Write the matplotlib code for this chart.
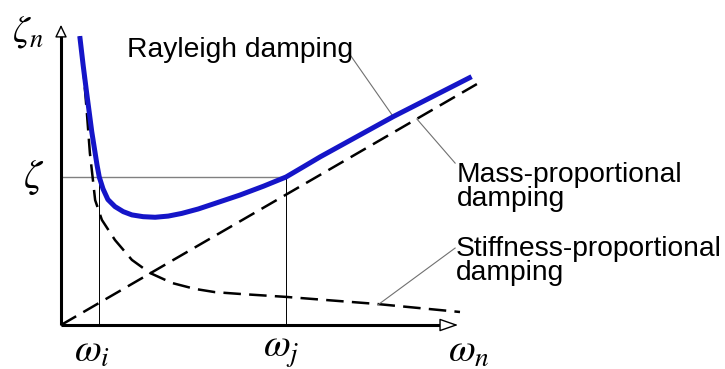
import matplotlib
matplotlib.use("Agg")
import matplotlib.pyplot as plt

plt.rcParams['font.family'] = ['Liberation Sans', 'DejaVu Sans']
plt.rcParams['mathtext.fontset'] = 'stix'

# natural frequencies and target damping ratio (%)
omega_i = 1.0
omega_j = 6.0
zeta_target = 5.0

# Rayleigh damping curve
w_rayleigh = [0.50, 0.59, 0.68, 0.75, 0.82, 0.89, 0.96, 1.02, 1.12, 1.25,
              1.44, 1.66, 1.89, 2.19, 2.51, 2.86, 3.22, 3.66, 4.11, 4.77,
              5.40, 6.00, 6.47, 6.91, 8.86, 10.95]
z_rayleigh = [9.76, 8.78, 7.88, 7.21, 6.53, 5.97, 5.41, 5.00, 4.60, 4.24,
              4.00, 3.83, 3.72, 3.66, 3.64, 3.68, 3.77, 3.92, 4.11, 4.39,
              4.69, 5.00, 5.35, 5.68, 7.04, 8.39]

# mass term (decays with frequency)
w_mass = [0.50, 0.56, 0.69, 0.77, 0.83, 0.91, 1.09, 1.44, 1.89, 2.37,
          2.96, 3.57, 4.11, 4.77, 6.00, 8.43, 10.64]
z_mass = [9.76, 9.19, 7.16, 5.81, 5.14, 4.22, 3.55, 2.87, 2.20, 1.76,
          1.42, 1.22, 1.11, 1.05, 0.95, 0.71, 0.44]

# stiffness term (linear in frequency)
w_stiff = [0.0, 11.09]
z_stiff = [0.0, 8.14]

fig = plt.figure(figsize=(7.25, 3.69), dpi=100)
ax = fig.add_axes([0, 0, 1, 1])
ax.set_xlim(-1.627, 17.707)
ax.set_ylim(-1.486, 10.98)
ax.axis('off')

# axes with open arrow heads
ax.plot([0, 10.27], [0, 0], color='black', lw=2.2, solid_capstyle='butt', zorder=3)
ax.plot([0, 0], [0, 9.80], color='black', lw=2.2, solid_capstyle='butt', zorder=3)
ax.annotate('', xy=(10.59, 0), xytext=(10.27, 0),
            arrowprops=dict(arrowstyle='-|>,head_length=1.15,head_width=0.4',
                            mutation_scale=10, fc='white', ec='black', lw=1.0,
                            shrinkA=0, shrinkB=0), zorder=4)
ax.annotate('', xy=(0, 10.14), xytext=(0, 9.80),
            arrowprops=dict(arrowstyle='-|>,head_length=0.75,head_width=0.36',
                            mutation_scale=10, fc='white', ec='black', lw=1.0,
                            shrinkA=0, shrinkB=0), zorder=4)

# reference lines
ax.plot([0, omega_j], [zeta_target, zeta_target], color='#808080', lw=1.0, zorder=1)
ax.plot([omega_i, omega_i], [0, zeta_target], color='black', lw=0.7, zorder=1)
ax.plot([omega_j, omega_j], [0, zeta_target], color='black', lw=0.7, zorder=1)

# curves
ax.plot(w_mass, z_mass, color='black', lw=1.8, dashes=(7, 3.3), zorder=2)
ax.plot(w_stiff, z_stiff, color='black', lw=1.8, dashes=(7, 3.3), zorder=2)
ax.plot(w_rayleigh, z_rayleigh, color='#1515c8', lw=3.6, solid_capstyle='butt',
        solid_joinstyle='round', zorder=3)

# labels with leader lines (baseline given for the last line)
ax.text(1.76, 9.05, 'Rayleigh damping', fontsize=20.3, va='baseline', ha='left')
ax.plot([7.73, 8.86], [9.09, 7.04], color='#707070', lw=0.8)

ax.text(10.56, 4.02, 'Mass-proportional\ndamping', fontsize=20.3, va='baseline',
        ha='left', linespacing=0.92)
ax.plot([9.49, 10.51], [6.96, 5.47], color='#707070', lw=0.8)

ax.text(10.53, 1.52, 'Stiffness-proportional\ndamping', fontsize=20.3, va='baseline',
        ha='left', linespacing=0.88)
ax.plot([8.45, 10.51], [0.68, 2.60], color='#707070', lw=0.8)

# math labels
ax.text(-0.90, 9.90, r'$\zeta_n$', fontsize=27, ha='center', va='center')
ax.text(-0.72, 5.00, r'$\zeta$', fontsize=29, ha='center', va='center')
ax.text(0.83, -0.90, r'$\omega_i$', fontsize=28, ha='center', va='center')
ax.text(5.87, -0.90, r'$\omega_j$', fontsize=28, ha='center', va='center')
ax.text(10.88, -0.90, r'$\omega_n$', fontsize=28, ha='center', va='center')

fig.savefig('out.png', dpi=100)
